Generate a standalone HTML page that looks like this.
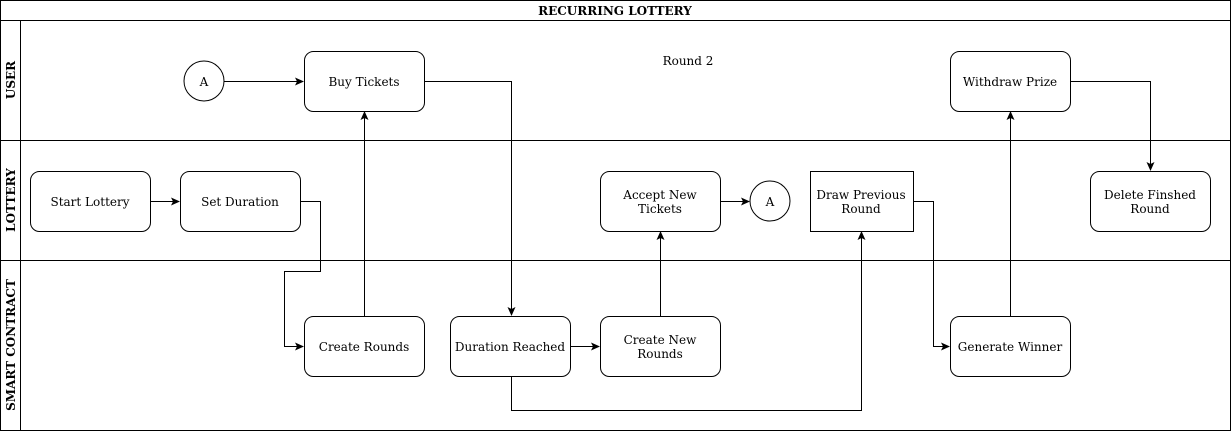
<!DOCTYPE html>
<html><head><meta charset="utf-8"><style>
html,body{margin:0;padding:0;background:#fff;}
svg{display:block;}
text{font-family:"DejaVu Serif","Liberation Serif",serif;font-size:12px;fill:#000;}
.b{font-weight:bold;}
</style></head><body>
<svg width="1232" height="432" viewBox="0 0 1232 432" xmlns="http://www.w3.org/2000/svg">
<defs><marker id="ar" markerWidth="10" markerHeight="10" refX="8" refY="4" orient="auto" markerUnits="userSpaceOnUse"><path d="M0,0 L9,4 L0,8 L2,4 Z" fill="#000"/></marker></defs>
<g fill="none" stroke="#000" stroke-width="1">
<rect x="0.5" y="0.5" width="1230" height="430"/>
<line x1="0" y1="20.5" x2="1231" y2="20.5"/>
<line x1="0" y1="140.5" x2="1231" y2="140.5"/>
<line x1="0" y1="260.5" x2="1231" y2="260.5"/>
<line x1="20.5" y1="20" x2="20.5" y2="431"/>
<circle cx="204" cy="81" r="20"/>
<circle cx="770" cy="201" r="20"/>
<rect x="304.5" y="51.5" width="120" height="60" rx="9"/>
<rect x="950.5" y="51.5" width="120" height="60" rx="9"/>
<rect x="30.5" y="171.5" width="120" height="60" rx="9"/>
<rect x="180.5" y="171.5" width="120" height="60" rx="9"/>
<rect x="600.5" y="171.5" width="120" height="60" rx="9"/>
<rect x="810.5" y="171.5" width="103" height="60"/>
<rect x="1090.5" y="171.5" width="120" height="60" rx="9"/>
<rect x="304.5" y="316.5" width="120" height="60" rx="9"/>
<rect x="450.5" y="316.5" width="120" height="60" rx="9"/>
<rect x="600.5" y="316.5" width="120" height="60" rx="9"/>
<rect x="950.5" y="316.5" width="120" height="60" rx="9"/>
<g marker-end="url(#ar)">
<path d="M224,81.5 H303"/>
<path d="M424,81.5 H511.5 V315"/>
<path d="M150,201.5 H179"/>
<path d="M300,201.5 H320.5 V271.5 H284.5 V346.5 H303"/>
<path d="M364.5,316 V112"/>
<path d="M570,346.5 H599"/>
<path d="M511.5,376 V410.5 H861.5 V232"/>
<path d="M660.5,316 V232"/>
<path d="M720,201.5 H749"/>
<path d="M913,201.5 H933.5 V346.5 H949"/>
<path d="M1010.5,316 V112"/>
<path d="M1070,81.5 H1150.5 V170"/>
</g>
</g>
<text x="615" y="15" text-anchor="middle" class="b">RECURRING LOTTERY</text>
<text transform="translate(15,80) rotate(-90)" text-anchor="middle" class="b">USER</text>
<text transform="translate(15,200) rotate(-90)" text-anchor="middle" class="b">LOTTERY</text>
<text transform="translate(15,345) rotate(-90)" text-anchor="middle" class="b">SMART CONTRACT</text>
<g text-anchor="middle">
<text x="204" y="86">A</text>
<text x="770" y="206">A</text>
<text x="364" y="86">Buy Tickets</text>
<text x="688" y="65">Round 2</text>
<text x="1010" y="86">Withdraw Prize</text>
<text x="90" y="206">Start Lottery</text>
<text x="240" y="206">Set Duration</text>
<text x="660" y="199">Accept New</text>
<text x="660" y="213">Tickets</text>
<text x="861" y="199">Draw Previous</text>
<text x="861" y="213">Round</text>
<text x="1150" y="199">Delete Finshed</text>
<text x="1150" y="213">Round</text>
<text x="364" y="351">Create Rounds</text>
<text x="510" y="351">Duration Reached</text>
<text x="660" y="344">Create New</text>
<text x="660" y="358">Rounds</text>
<text x="1010" y="351">Generate Winner</text>
</g>
</svg>
</body></html>
